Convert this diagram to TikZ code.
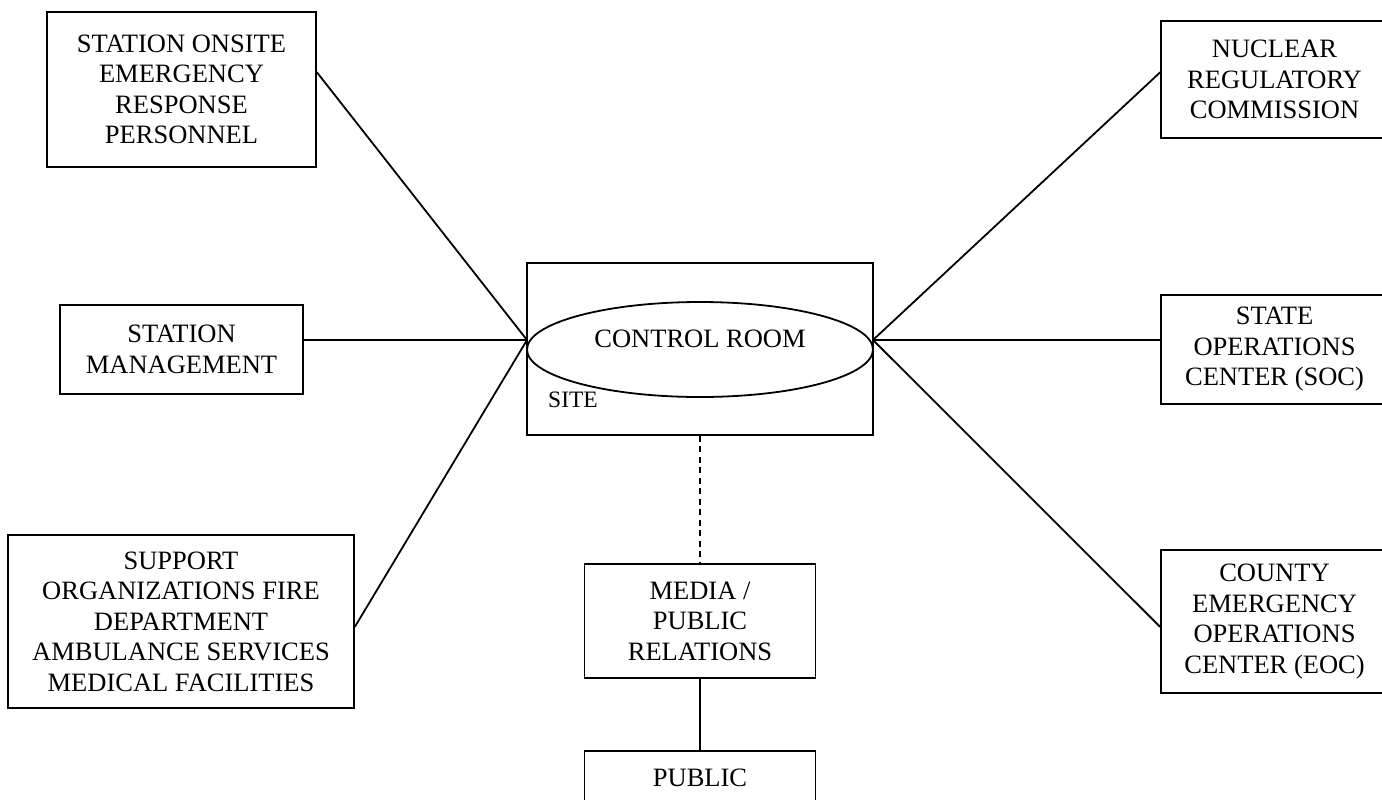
\documentclass[tikz,border=0pt]{standalone}
\usepackage{fontspec}
\setmainfont{Liberation Serif}
\usetikzlibrary{shapes.geometric,calc}

\tikzset{
  boxtext/.style={font=\fontsize{26.5}{30.5}\selectfont, align=center},
  orgbox/.style={draw, line width=1.8pt, boxtext, inner sep=0pt, anchor=center},
  link/.style={line width=1.8pt},
  weaklink/.style={line width=1.8pt, dash pattern=on 6pt off 4.5pt},
}

\begin{document}
\begin{tikzpicture}[x=1pt, y=-1pt]
  \useasboundingbox (0,0) rectangle (1382,800);
  \clip (0,0) rectangle (1382,800);

  % site with the control room at its heart
  \node[orgbox, minimum width=346pt, minimum height=172pt] (site) at (700,349) {};
  \node[draw, ellipse, line width=1.8pt, minimum width=346pt, minimum height=95pt, inner sep=0pt] (cr) at (700,349.5) {};
  \node[boxtext] (crtext) at (700,339) {CONTROL ROOM};
  \node[font=\fontsize{23.5}{27}\selectfont] (sitetext) at (573,400) {SITE};
  \coordinate (hubL) at (527,340);
  \coordinate (hubR) at (873,340);

  % onsite organisations
  \node[orgbox, minimum width=269pt, minimum height=155pt] (onsite) at (181.5,89.5)
    {STATION ONSITE\\EMERGENCY\\RESPONSE\\PERSONNEL};
  \node[orgbox, minimum width=243pt, minimum height=89pt] (mgmt) at (181.5,349.5)
    {STATION\\MANAGEMENT};
  \node[orgbox, minimum width=346pt, minimum height=173pt] (support) at (181,621.5)
    {SUPPORT\\ORGANIZATIONS FIRE\\DEPARTMENT\\AMBULANCE SERVICES\\MEDICAL FACILITIES};

  % offsite authorities
  \node[orgbox, minimum width=227pt, minimum height=117pt] (nrc) at (1274.5,79.5)
    {NUCLEAR\\REGULATORY\\COMMISSION};
  \node[orgbox, minimum width=227pt, minimum height=109pt] (soc) at (1274.5,349.5)
    {STATE\\OPERATIONS\\CENTER (SOC)};
  \node[orgbox, minimum width=227pt, minimum height=143pt] (eoc) at (1274.5,621.5)
    {COUNTY\\EMERGENCY\\OPERATIONS\\CENTER (EOC)};

  % public information chain
  \node[orgbox, minimum width=231pt, minimum height=114pt] (media) at (700,621)
    {MEDIA /\\PUBLIC\\RELATIONS};
  \node[draw, line width=1.8pt, boxtext, anchor=north, minimum width=231pt,
        inner xsep=0pt, inner ysep=18pt, text depth=80pt] (public) at (700,750) {PUBLIC};

  % communication links
  \draw[link] ($(onsite.north east)!0.39!(onsite.south east)$) -- (hubL);
  \draw[link] (mgmt.east |- hubL) -- (hubL);
  \draw[link] ($(support.north east)!0.53!(support.south east)$) -- (hubL);
  \draw[link] (hubR) -- ($(nrc.north west)!0.44!(nrc.south west)$);
  \draw[link] (hubR) -- (soc.west |- hubR);
  \draw[link] (hubR) -- ($(eoc.north west)!0.537!(eoc.south west)$);
  \draw[weaklink] (site.south) -- (media.north);
  \draw[link] (media.south) -- (public.north);
\end{tikzpicture}
\end{document}
